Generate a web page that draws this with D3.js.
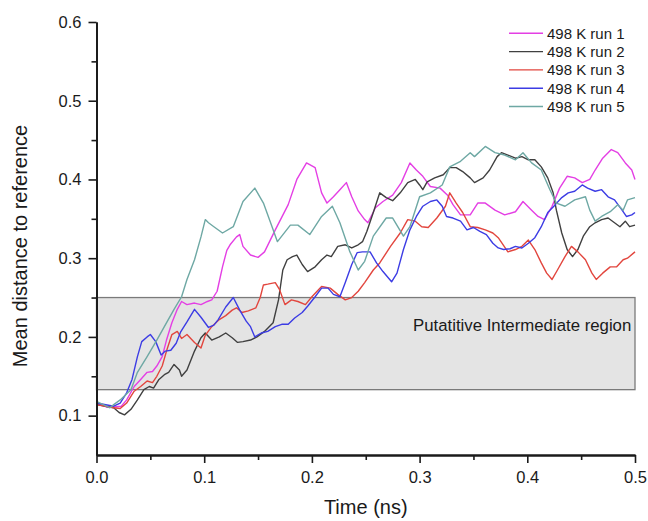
<!DOCTYPE html>
<html>
<head>
<meta charset="utf-8">
<script src="https://cdn.jsdelivr.net/npm/d3@7"></script>
<style>
  body { margin: 0; background: #fff; }
  svg { font-family: "Liberation Sans", Arial, sans-serif; }
</style>
</head>
<body>
<svg></svg>
<script>
let svgWidth = 648;
let svgHeight = 521;

// series names / colours
let runNames = ["498 K run 1", "498 K run 2", "498 K run 3", "498 K run 4", "498 K run 5"];
let runColors = ["#e43fe4", "#404040", "#e2463e", "#3c3ce4", "#6ea8a4"];

// [time (ns), mean distance]
let run1 = [[0,0.116],[0.009,0.111],[0.016,0.111],[0.023,0.112],[0.028,0.12],[0.035,0.137],[0.041,0.146],[0.047,0.155],[0.052,0.156],[0.056,0.163],[0.061,0.175],[0.065,0.196],[0.070,0.218],[0.075,0.235],[0.079,0.245],[0.084,0.241],[0.091,0.243],[0.097,0.241],[0.103,0.245],[0.107,0.247],[0.112,0.258],[0.117,0.289],[0.121,0.31],[0.124,0.317],[0.130,0.327],[0.133,0.33],[0.136,0.315],[0.143,0.304],[0.150,0.301],[0.156,0.308],[0.166,0.336],[0.178,0.368],[0.186,0.4],[0.195,0.421],[0.203,0.415],[0.209,0.383],[0.214,0.37],[0.220,0.378],[0.226,0.387],[0.232,0.396],[0.237,0.378],[0.243,0.36],[0.249,0.349],[0.252,0.345],[0.259,0.364],[0.266,0.372],[0.275,0.38],[0.283,0.396],[0.291,0.421],[0.297,0.412],[0.303,0.404],[0.310,0.391],[0.319,0.389],[0.326,0.38],[0.331,0.368],[0.338,0.355],[0.347,0.355],[0.354,0.37],[0.361,0.37],[0.370,0.361],[0.379,0.355],[0.389,0.359],[0.396,0.372],[0.404,0.361],[0.410,0.353],[0.416,0.349],[0.423,0.366],[0.430,0.389],[0.437,0.404],[0.444,0.402],[0.451,0.396],[0.458,0.4],[0.463,0.412],[0.470,0.427],[0.478,0.438],[0.484,0.434],[0.491,0.421],[0.497,0.412],[0.5,0.4]];
let run2 = [[0,0.114],[0.016,0.11],[0.021,0.104],[0.026,0.101],[0.032,0.108],[0.038,0.12],[0.044,0.133],[0.049,0.137],[0.053,0.135],[0.058,0.146],[0.063,0.152],[0.067,0.155],[0.072,0.165],[0.077,0.158],[0.079,0.15],[0.084,0.158],[0.091,0.182],[0.097,0.199],[0.101,0.205],[0.107,0.196],[0.114,0.2],[0.120,0.205],[0.126,0.199],[0.131,0.193],[0.136,0.194],[0.143,0.196],[0.149,0.2],[0.156,0.207],[0.164,0.218],[0.169,0.247],[0.173,0.285],[0.177,0.298],[0.182,0.302],[0.186,0.304],[0.191,0.292],[0.196,0.283],[0.203,0.289],[0.209,0.298],[0.214,0.304],[0.218,0.302],[0.224,0.315],[0.231,0.317],[0.237,0.313],[0.243,0.317],[0.247,0.321],[0.251,0.334],[0.257,0.358],[0.263,0.383],[0.269,0.377],[0.275,0.373],[0.282,0.383],[0.289,0.396],[0.296,0.4],[0.300,0.393],[0.303,0.387],[0.307,0.397],[0.314,0.402],[0.322,0.406],[0.328,0.415],[0.334,0.415],[0.340,0.41],[0.347,0.402],[0.351,0.396],[0.359,0.402],[0.365,0.412],[0.372,0.429],[0.376,0.434],[0.382,0.431],[0.389,0.427],[0.395,0.429],[0.401,0.425],[0.407,0.425],[0.413,0.416],[0.419,0.402],[0.424,0.383],[0.427,0.361],[0.432,0.332],[0.437,0.311],[0.442,0.302],[0.447,0.311],[0.452,0.328],[0.458,0.34],[0.463,0.345],[0.469,0.349],[0.475,0.351],[0.481,0.345],[0.486,0.34],[0.491,0.347],[0.495,0.34],[0.5,0.342]];
let run3 = [[0,0.114],[0.016,0.11],[0.022,0.109],[0.028,0.116],[0.035,0.131],[0.041,0.137],[0.047,0.144],[0.052,0.142],[0.056,0.15],[0.061,0.163],[0.065,0.182],[0.070,0.203],[0.075,0.207],[0.079,0.198],[0.084,0.203],[0.091,0.193],[0.097,0.186],[0.101,0.202],[0.107,0.213],[0.114,0.222],[0.120,0.227],[0.126,0.234],[0.130,0.237],[0.135,0.231],[0.141,0.233],[0.148,0.237],[0.152,0.25],[0.155,0.266],[0.159,0.267],[0.166,0.269],[0.170,0.26],[0.175,0.241],[0.181,0.247],[0.187,0.245],[0.194,0.241],[0.200,0.251],[0.209,0.264],[0.217,0.262],[0.224,0.254],[0.231,0.247],[0.237,0.25],[0.243,0.258],[0.249,0.269],[0.257,0.285],[0.263,0.294],[0.273,0.315],[0.282,0.332],[0.289,0.349],[0.296,0.347],[0.302,0.34],[0.308,0.339],[0.316,0.351],[0.324,0.366],[0.328,0.383],[0.334,0.37],[0.340,0.358],[0.347,0.34],[0.354,0.339],[0.361,0.336],[0.368,0.332],[0.373,0.326],[0.382,0.308],[0.389,0.311],[0.395,0.315],[0.401,0.323],[0.407,0.311],[0.413,0.294],[0.418,0.281],[0.423,0.273],[0.428,0.285],[0.435,0.302],[0.441,0.315],[0.447,0.308],[0.454,0.298],[0.460,0.281],[0.464,0.273],[0.470,0.281],[0.477,0.289],[0.483,0.289],[0.489,0.298],[0.493,0.3],[0.5,0.308]];
let run4 = [[0,0.116],[0.016,0.112],[0.022,0.116],[0.028,0.129],[0.033,0.146],[0.038,0.175],[0.042,0.194],[0.047,0.2],[0.050,0.203],[0.055,0.194],[0.060,0.177],[0.064,0.182],[0.069,0.183],[0.074,0.192],[0.078,0.206],[0.084,0.219],[0.091,0.235],[0.097,0.225],[0.104,0.212],[0.109,0.215],[0.113,0.222],[0.120,0.238],[0.127,0.25],[0.133,0.234],[0.139,0.22],[0.143,0.213],[0.147,0.2],[0.153,0.205],[0.159,0.207],[0.166,0.213],[0.172,0.216],[0.178,0.216],[0.184,0.224],[0.191,0.231],[0.196,0.239],[0.203,0.251],[0.209,0.262],[0.215,0.262],[0.220,0.254],[0.226,0.251],[0.231,0.269],[0.237,0.292],[0.242,0.307],[0.247,0.308],[0.254,0.308],[0.260,0.294],[0.266,0.283],[0.274,0.27],[0.279,0.281],[0.285,0.311],[0.291,0.336],[0.297,0.353],[0.303,0.366],[0.310,0.372],[0.316,0.374],[0.321,0.366],[0.325,0.353],[0.331,0.351],[0.338,0.347],[0.344,0.336],[0.350,0.339],[0.356,0.334],[0.362,0.33],[0.368,0.319],[0.373,0.313],[0.378,0.311],[0.384,0.312],[0.389,0.315],[0.395,0.313],[0.401,0.319],[0.407,0.326],[0.413,0.34],[0.419,0.358],[0.426,0.368],[0.432,0.377],[0.438,0.383],[0.444,0.385],[0.451,0.393],[0.456,0.389],[0.463,0.385],[0.469,0.387],[0.475,0.378],[0.481,0.374],[0.488,0.361],[0.492,0.353],[0.497,0.355],[0.5,0.358]];
let run5 = [[0,0.118],[0.0125,0.11],[0.016,0.114],[0.022,0.12],[0.032,0.133],[0.038,0.155],[0.047,0.175],[0.056,0.196],[0.063,0.213],[0.072,0.235],[0.079,0.251],[0.084,0.273],[0.091,0.298],[0.097,0.327],[0.101,0.349],[0.104,0.345],[0.109,0.34],[0.117,0.332],[0.127,0.34],[0.136,0.372],[0.147,0.389],[0.155,0.37],[0.163,0.34],[0.168,0.321],[0.180,0.342],[0.187,0.342],[0.198,0.33],[0.209,0.353],[0.219,0.366],[0.226,0.345],[0.235,0.309],[0.243,0.285],[0.249,0.296],[0.257,0.328],[0.269,0.351],[0.275,0.351],[0.285,0.328],[0.291,0.34],[0.300,0.378],[0.310,0.383],[0.321,0.393],[0.328,0.416],[0.338,0.423],[0.347,0.434],[0.351,0.429],[0.361,0.442],[0.370,0.434],[0.379,0.431],[0.389,0.425],[0.396,0.434],[0.404,0.421],[0.413,0.412],[0.421,0.387],[0.427,0.37],[0.435,0.366],[0.444,0.374],[0.454,0.378],[0.458,0.361],[0.463,0.347],[0.469,0.353],[0.477,0.359],[0.484,0.368],[0.489,0.361],[0.493,0.374],[0.5,0.377]];
let runs = [run1, run2, run3, run4, run5];

// shaded band
let regionLabel = "Putatitive Intermediate region";
let regionLow = 0.133;
let regionHigh = 0.25;

// ticks
let xTicks = [0, 0.1, 0.2, 0.3, 0.4, 0.5];
let xMinor = [0.05, 0.15, 0.25, 0.35, 0.45];
let yTicks = [0.1, 0.2, 0.3, 0.4, 0.5, 0.6];
let yMinor = [0.15, 0.25, 0.35, 0.45, 0.55];

let plotLeft = 96.5, plotRight = 635, plotTop = 22, plotBottom = 455;

var svg = d3.select("svg")
    .attr("width", svgWidth)
    .attr("height", svgHeight);

let xScale = d3.scaleLinear().domain([0, 0.5]).range([plotLeft, plotRight]);
let yScale = d3.scaleLinear().domain([0.05, 0.6]).range([plotBottom, plotTop]);

// grey region
svg.append("rect")
    .attr("x", xScale(0))
    .attr("y", yScale(regionHigh))
    .attr("width", xScale(0.5) - xScale(0))
    .attr("height", yScale(regionLow) - yScale(regionHigh))
    .attr("fill", "#e4e4e4")
    .attr("stroke", "#7a7a7a")
    .attr("stroke-width", 1.3);

svg.append("text")
    .text(regionLabel)
    .attr("x", 413)
    .attr("y", 331)
    .attr("font-size", "16.8px")
    .attr("fill", "#1a1a1a");

// lines
let line = d3.line()
    .x(d => xScale(d[0]))
    .y(d => yScale(d[1]));

runs.forEach((r, i) => {
    svg.append("path")
        .datum(r)
        .attr("d", line)
        .attr("fill", "none")
        .attr("stroke", runColors[i])
        .attr("stroke-width", 1.4)
        .attr("stroke-linejoin", "round");
});

// axes
function styleAxis(g) {
    g.select(".domain").attr("stroke", "#1a1a1a").attr("stroke-width", 1.8);
    g.selectAll(".tick line").attr("stroke", "#1a1a1a").attr("stroke-width", 1.6);
    g.selectAll("text").attr("fill", "#1a1a1a").attr("font-size", "16.5px")
        .attr("font-family", "Liberation Sans, Arial, sans-serif");
}

svg.append("g")
    .attr("transform", `translate(0, ${plotBottom})`)
    .call(d3.axisBottom(xScale).tickValues(xMinor).tickFormat("").tickSize(5).tickSizeOuter(0))
    .call(styleAxis);
svg.append("g")
    .attr("transform", `translate(0, ${plotBottom})`)
    .call(d3.axisBottom(xScale).tickValues(xTicks).tickFormat(d3.format(".1f")).tickSize(8).tickPadding(8).tickSizeOuter(0))
    .call(styleAxis);

svg.append("g")
    .attr("transform", `translate(${plotLeft}, 0)`)
    .call(d3.axisLeft(yScale).tickValues(yMinor).tickFormat("").tickSize(5).tickSizeOuter(0))
    .call(styleAxis);
svg.append("g")
    .attr("transform", `translate(${plotLeft}, 0)`)
    .call(d3.axisLeft(yScale).tickValues(yTicks).tickFormat(d3.format(".1f")).tickSize(8).tickPadding(7).tickSizeOuter(0))
    .call(styleAxis);

// axis labels
svg.append("text")
    .text("Time (ns)")
    .attr("x", (plotLeft + plotRight) / 2)
    .attr("y", 514)
    .attr("font-size", "20px")
    .attr("text-anchor", "middle")
    .attr("fill", "#1a1a1a");

svg.append("text")
    .text("Mean distance to reference")
    .attr("transform", "rotate(-90)")
    .attr("x", -246)
    .attr("y", 27)
    .attr("font-size", "20px")
    .attr("text-anchor", "middle")
    .attr("fill", "#1a1a1a");

// legend
let legend = svg.append("g");
runNames.forEach((name, i) => {
    let ly = 33.3 + i * 18.3;
    legend.append("line")
        .attr("x1", 509).attr("x2", 543)
        .attr("y1", ly).attr("y2", ly)
        .attr("stroke", runColors[i])
        .attr("stroke-width", 1.4);
    legend.append("text")
        .text(name)
        .attr("x", 547)
        .attr("y", ly)
        .attr("dy", "0.36em")
        .attr("font-size", "15px")
        .attr("fill", "#1a1a1a");
});
</script>
</body>
</html>
